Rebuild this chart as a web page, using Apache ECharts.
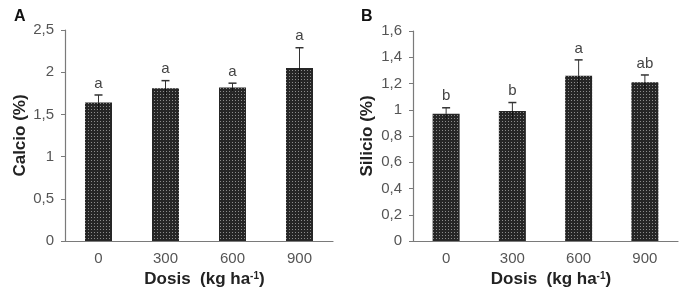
<!DOCTYPE html>
<html>
<head>
    <meta charset="utf-8">
    <script src="https://cdn.jsdelivr.net/npm/echarts@6/dist/echarts.min.js"></script>
</head>
<body style="margin:0;background:#fff">
    <div id="main" style="width: 685px;height:296px;"></div>
    <script type="text/javascript">
        // datos
        var dosis = ['0', '300', '600', '900'];
        var calcio = [1.64, 1.81, 1.82, 2.05];
        var calcioErr = [0.09, 0.09, 0.05, 0.24];
        var calcioLetras = ['a', 'a', 'a', 'a'];
        var silicio = [0.97, 0.99, 1.26, 1.21];
        var silicioErr = [0.045, 0.065, 0.12, 0.055];
        var silicioLetras = ['b', 'b', 'a', 'ab'];

        // relleno punteado de las barras
        var pat = document.createElement('canvas');
        pat.width = 3; pat.height = 3;
        var ctx = pat.getContext('2d');
        ctx.fillStyle = '#262626';
        ctx.fillRect(0, 0, 3, 3);
        ctx.fillStyle = '#8c8c8c';
        ctx.fillRect(1, 1, 1, 1);

        var myChart = echarts.init(document.getElementById('main'));

        var errData = function (vals, errs, letras) {
            var res = [];
            for (var i = 0; i < vals.length; i++) {
                res.push([i, vals[i], errs[i], letras[i]]);
            }
            return res;
        };

        var renderErr = function (params, api) {
            var x = api.value(0), y = api.value(1), e = api.value(2);
            var top = api.coord([x, y + e]);
            var bot = api.coord([x, y - e]);
            var mid = api.coord([x, y]);
            return {
                type: 'group',
                children: [
                    { type: 'line', shape: { x1: top[0], y1: top[1], x2: mid[0], y2: mid[1] }, style: { stroke: '#333', lineWidth: 1 } },
                    { type: 'line', shape: { x1: mid[0], y1: mid[1], x2: bot[0], y2: bot[1] }, style: { stroke: '#111', lineWidth: 1 } },
                    { type: 'line', shape: { x1: top[0] - 4, y1: top[1], x2: top[0] + 4, y2: top[1] }, style: { stroke: '#333', lineWidth: 1.5 } },
                    { type: 'text', x: top[0], y: top[1] - 4, style: { text: api.value(3), fill: '#444', font: '15px "Liberation Sans", Arial', align: 'center', verticalAlign: 'bottom' } }
                ]
            };
        };

        var axisLbl = { color: '#555', fontSize: 15, fontFamily: 'Liberation Sans' };
        var axLine = { lineStyle: { color: '#7a7a7a', width: 1.2 } };
        var xName = {
            name: '{a|Dosis  (kg ha}{s|-1}{a|)}',
            nameLocation: 'middle',
            nameGap: 28,
            nameTextStyle: {
                padding: [0, 0, 0, 11],
                rich: {
                    a: { fontSize: 17, fontWeight: 'bold', color: '#222', fontFamily: 'Liberation Sans' },
                    s: { fontSize: 10, fontWeight: 'bold', color: '#222', fontFamily: 'Liberation Sans', verticalAlign: 'top', padding: [0, 0, 7, 0] }
                }
            }
        };

        var fmt = function (v) { return String(Math.round(v * 10) / 10).replace('.', ','); };
        var yNameStyle = { fontSize: 17, fontWeight: 'bold', color: '#222', fontFamily: 'Liberation Sans' };

        option = {
            animation: false,
            title: [
                { text: 'A', left: 9, top: 4, textStyle: { fontSize: 16, fontWeight: 'bold', color: '#111', fontFamily: 'Liberation Sans' } },
                { text: 'B', left: 356, top: 4, textStyle: { fontSize: 16, fontWeight: 'bold', color: '#111', fontFamily: 'Liberation Sans' } }
            ],
            grid: [
                { left: 65, top: 30, width: 268, height: 211 },
                { left: 413, top: 31, width: 265, height: 210 }
            ],
            xAxis: [
                Object.assign({ type: 'category', gridIndex: 0, data: dosis, axisLine: axLine, axisTick: { lineStyle: { color: '#7a7a7a' } }, axisLabel: Object.assign({ margin: 10 }, axisLbl) }, xName),
                Object.assign({ type: 'category', gridIndex: 1, data: dosis, axisLine: axLine, axisTick: { lineStyle: { color: '#7a7a7a' } }, axisLabel: Object.assign({ margin: 10 }, axisLbl) }, xName)
            ],
            yAxis: [
                {
                    type: 'value', gridIndex: 0, min: 0, max: 2.5, interval: 0.5,
                    name: 'Calcio (%)', nameLocation: 'middle', nameGap: 32,
                    nameTextStyle: yNameStyle,
                    axisLine: Object.assign({ show: true }, axLine), axisTick: { show: true, length: 4, lineStyle: { color: '#7a7a7a' } },
                    splitLine: { show: false },
                    axisLabel: Object.assign({ formatter: fmt, margin: 11 }, axisLbl)
                },
                {
                    type: 'value', gridIndex: 1, min: 0, max: 1.6, interval: 0.2,
                    name: 'Silicio (%)', nameLocation: 'middle', nameGap: 37,
                    nameTextStyle: yNameStyle,
                    axisLine: Object.assign({ show: true }, axLine), axisTick: { show: true, length: 4, lineStyle: { color: '#7a7a7a' } },
                    splitLine: { show: false },
                    axisLabel: Object.assign({ formatter: fmt, margin: 11 }, axisLbl)
                }
            ],
            series: [
                { type: 'bar', xAxisIndex: 0, yAxisIndex: 0, data: calcio, barWidth: 27, itemStyle: { color: { image: pat, repeat: 'repeat' } } },
                { type: 'custom', xAxisIndex: 0, yAxisIndex: 0, data: errData(calcio, calcioErr, calcioLetras), renderItem: renderErr, z: 5 },
                { type: 'bar', xAxisIndex: 1, yAxisIndex: 1, data: silicio, barWidth: 27, itemStyle: { color: { image: pat, repeat: 'repeat' } } },
                { type: 'custom', xAxisIndex: 1, yAxisIndex: 1, data: errData(silicio, silicioErr, silicioLetras), renderItem: renderErr, z: 5 }
            ]
        };
        myChart.setOption(option);
    </script>
</body>
</html>
